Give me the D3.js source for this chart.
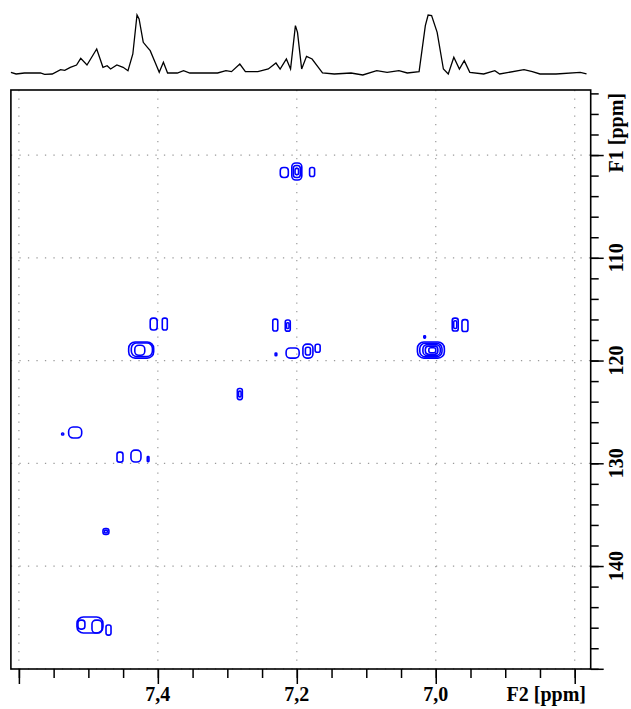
<!DOCTYPE html>
<html><head><meta charset="utf-8">
<script src="https://cdn.jsdelivr.net/npm/d3@7"></script>
<style>body{margin:0;background:#fff}svg{display:block}</style>
</head><body>
<svg id="c" width="631" height="709"></svg>
<script>
// ---- 1D projection (F2 ppm, relative intensity) ----
const projPpm = [7.6115,7.604,7.592,7.569,7.563,7.552,7.540,7.534,7.526,7.517,7.511,7.502,7.488,7.479,7.473,7.468,7.459,7.450,7.443,7.436,7.430,7.427,7.421,7.415,7.411,7.404,7.398,7.392,7.386,7.372,7.363,7.354,7.337,7.314,7.302,7.294,7.282,7.274,7.256,7.241,7.230,7.224,7.215,7.209,7.202,7.199,7.193,7.186,7.178,7.169,7.163,7.146,7.122,7.105,7.085,7.070,7.053,7.041,7.024,7.015,7.011,7.006,6.998,6.989,6.982,6.974,6.966,6.959,6.951,6.931,6.915,6.908,6.873,6.861,6.850,6.827,6.792,6.783];
const projInt = [1.1,-1.7,0,0,-2.3,-1.7,5.7,4.6,9.8,13.8,25.3,13.8,41.4,9.8,12.6,6.9,13.8,9.8,4.0,32.8,100,93.1,52.9,44.3,38.5,18.4,1.1,18.4,0,0,4.0,0,0,0,4.0,2.3,15.5,2.3,2.3,6.9,17.2,6.9,24.1,6.9,81.6,70.1,6.9,28.7,24.1,9.8,0,-1.7,0,-3.4,4.0,1.1,4.0,0,2.3,81.6,100,98.9,70.1,6.9,-1.7,27.0,6.9,21.3,1.1,-1.7,4.0,-1.7,5.7,2.3,-1.7,-1.7,1.1,-1.7];

// ---- 2D contour rings: centre (F2, F1) and half-extent (ppm) ----
const ringF2 = [7.218,7.200,7.200,7.200,7.178,7.406,7.390,7.424,7.423,7.426,7.231,7.213,7.213,7.230,7.206,7.184,7.184,7.170,6.972,6.972,6.958,7.016,7.007,7.007,7.006,7.006,7.005,7.537,7.519,7.4545,7.4315,7.414,7.4747,7.4747,7.4977,7.4876,7.510,7.471,7.282,7.282];
const ringF1 = [101.70,101.60,101.60,101.60,101.65,116.45,116.45,118.98,118.95,119.00,116.55,116.60,116.60,119.40,119.27,119.08,119.08,118.80,116.50,116.50,116.60,117.70,118.98,118.98,118.98,119.00,119.00,127.15,127.00,129.40,129.30,129.60,136.64,136.64,145.74,145.89,145.70,146.23,123.26,123.26];
const ringHalfF2 = [0.0058,0.0072,0.0050,0.0025,0.0036,0.0050,0.0036,0.0180,0.0152,0.0072,0.0036,0.0036,0.0018,0.0012,0.0094,0.0072,0.0036,0.0036,0.0043,0.0022,0.0043,0.0012,0.0194,0.0160,0.0125,0.0090,0.0050,0.0015,0.0094,0.0043,0.0072,0.0012,0.0043,0.0020,0.0187,0.0072,0.0050,0.0036,0.0036,0.0018];
const ringHalfF1 = [0.49,0.83,0.58,0.30,0.44,0.58,0.58,0.78,0.66,0.49,0.58,0.54,0.28,0.14,0.49,0.68,0.38,0.39,0.63,0.38,0.58,0.12,0.78,0.66,0.53,0.40,0.24,0.10,0.535,0.49,0.58,0.25,0.29,0.14,0.78,0.63,0.44,0.49,0.54,0.28];

// ---- axes ----
const f2Major = [7.6,7.4,7.2,7.0,6.8];
const f2Labels = ["","7,4","7,2","7,0",""];
const f2Minor = [7.6,7.55,7.5,7.45,7.4,7.35,7.3,7.25,7.2,7.15,7.1,7.05,7.0,6.95,6.9,6.85,6.8];
const f1Major = [100,110,120,130,140,150];
const f1Labels = ["","110","120","130","140",""];
const f1Minor = [94,96,98,100,102,104,106,108,110,112,114,116,118,120,122,124,126,128,130,132,134,136,138,140,142,144,146,148,150];
const f2Title = "F2 [ppm]";
const f1Title = "F1 [ppm]";

const L = 10.9, R = 590.7, T = 90, B = 669;
const x = d3.scaleLinear().domain([7.6115, 6.777]).range([L, R]);
const y = d3.scaleLinear().domain([93.67, 150.02]).range([T, B]);
const yP = d3.scaleLinear().domain([0, 100]).range([73, 15]);

const svg = d3.select("#c");
const font = "'Liberation Serif','Times New Roman',serif";
const FS = 20;

// grid
const grid = svg.append("g").attr("stroke", "#9a9a9a").attr("stroke-width", 1.2).attr("stroke-dasharray", "1.3,7.2");
grid.selectAll(".gv").data(f2Major).join("line")
  .attr("x1", d => x(d)).attr("x2", d => x(d)).attr("y1", T).attr("y2", B);
grid.selectAll(".gh").data(f1Major).join("line")
  .attr("x1", L).attr("x2", R).attr("y1", d => y(d)).attr("y2", d => y(d));

// contours (rounded blobs)
const idx = ringF2.map((d, i) => i);
const rw = i => Math.abs(x(ringF2[i] - ringHalfF2[i]) - x(ringF2[i]));
const rh = i => Math.abs(y(ringF1[i] + ringHalfF1[i]) - y(ringF1[i]));
svg.append("g").selectAll("rect").data(idx).join("rect")
  .attr("x", i => x(ringF2[i]) - rw(i))
  .attr("y", i => y(ringF1[i]) - rh(i))
  .attr("width", i => 2 * rw(i))
  .attr("height", i => 2 * rh(i))
  .attr("rx", i => 0.8 * Math.min(rw(i), rh(i)))
  .attr("ry", i => 0.8 * Math.min(rw(i), rh(i)))
  .attr("fill", "none").attr("stroke", "#0000ff").attr("stroke-width", 1.6);

// projection
svg.append("path").datum(idx.length ? projPpm.map((d, i) => i) : [])
  .attr("d", d3.line().x(i => x(projPpm[i])).y(i => yP(projInt[i])))
  .attr("fill", "none").attr("stroke", "#000").attr("stroke-width", 1.3);

// frame
svg.append("rect").attr("x", L).attr("y", T).attr("width", R - L).attr("height", B - T)
  .attr("fill", "none").attr("stroke", "#000").attr("stroke-width", 1.6);

// bottom axis
const bx = svg.append("g").attr("transform", `translate(0,${B})`);
bx.append("g").call(d3.axisBottom(x).tickValues(f2Minor).tickSize(9).tickFormat(""))
  .call(g => g.select(".domain").remove());
bx.append("g").call(d3.axisBottom(x).tickValues(f2Major).tickSize(15).tickFormat(""))
  .call(g => g.select(".domain").remove());
bx.selectAll(".tick line").attr("stroke", "#000").attr("stroke-width", 1.5);
svg.append("g").selectAll("text").data(f2Major.map((d, i) => i)).join("text")
  .attr("x", i => x(f2Major[i])).attr("y", 701).attr("text-anchor", "middle")
  .attr("font-family", font).attr("font-weight", "bold").attr("font-size", FS)
  .text(i => f2Labels[i]);
svg.append("text").attr("x", 586).attr("y", 701).attr("text-anchor", "end")
  .attr("font-family", font).attr("font-weight", "bold").attr("font-size", FS).text(f2Title);

// right axis
const ryg = svg.append("g").attr("transform", `translate(${R},0)`);
ryg.append("g").call(d3.axisRight(y).tickValues(f1Minor).tickSize(8).tickFormat(""))
  .call(g => g.select(".domain").remove());
ryg.append("g").call(d3.axisRight(y).tickValues(f1Major).tickSize(13).tickFormat(""))
  .call(g => g.select(".domain").remove());
ryg.selectAll(".tick line").attr("stroke", "#000").attr("stroke-width", 1.5);
svg.append("g").selectAll("text").data(f1Major.map((d, i) => i)).join("text")
  .attr("transform", i => `translate(623,${y(f1Major[i])}) rotate(-90)`)
  .attr("text-anchor", "middle")
  .attr("font-family", font).attr("font-weight", "bold").attr("font-size", FS)
  .text(i => f1Labels[i]);
svg.append("text").attr("transform", `translate(623,93) rotate(-90)`).attr("text-anchor", "end")
  .attr("font-family", font).attr("font-weight", "bold").attr("font-size", FS).text(f1Title);
</script>
</body></html>
